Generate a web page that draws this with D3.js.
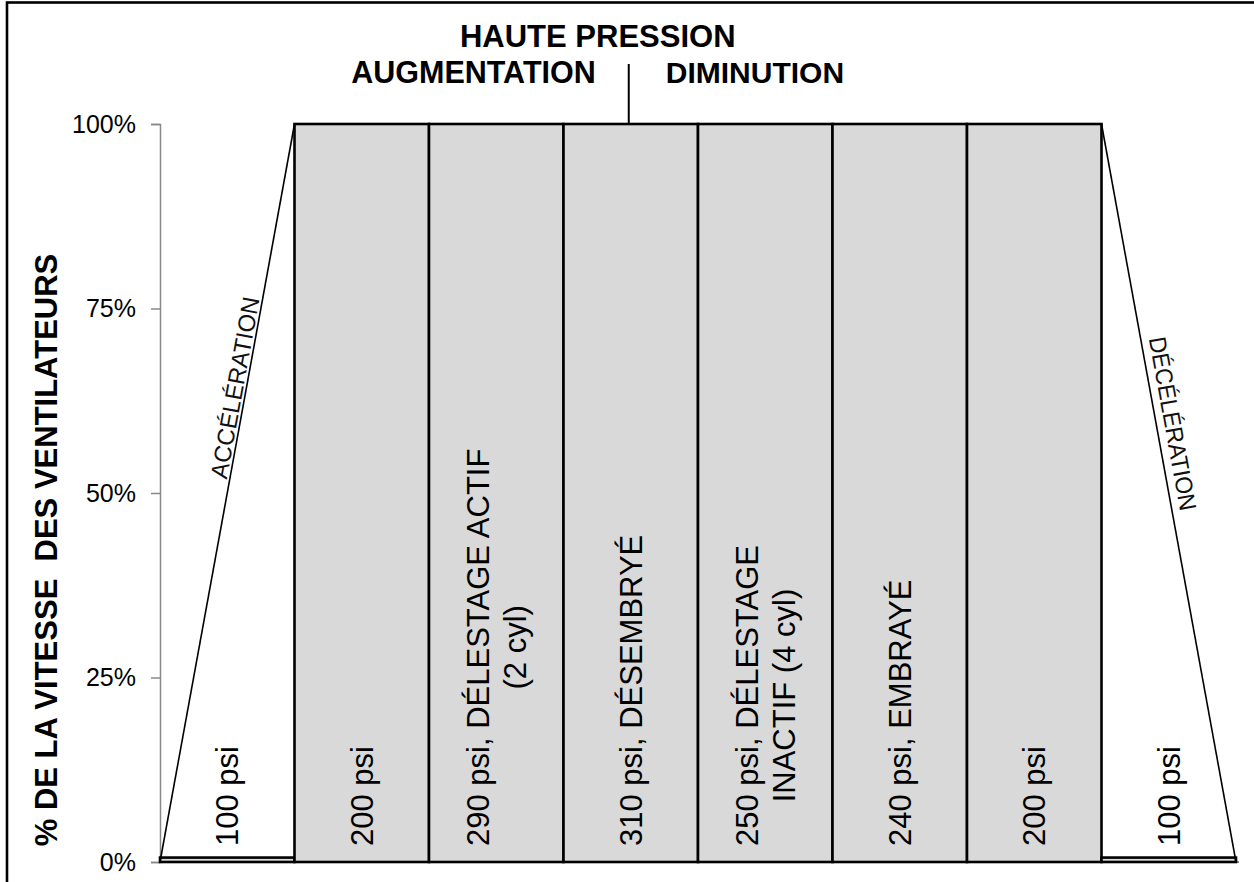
<!DOCTYPE html>
<html>
<head>
<meta charset="utf-8">
<script src="https://cdn.jsdelivr.net/npm/d3@7"></script>
<style>
  html, body { margin: 0; padding: 0; background: #fff; }
  svg { display: block; }
  text { font-family: "Liberation Sans", Arial, sans-serif; }
</style>
</head>
<body>
<svg id="chart" width="1254" height="882"></svg>
<script>
// Fan speed (%) per pressure stage
const stages = [
  "100 psi",
  "200 psi",
  "290 psi, DÉLESTAGE ACTIF\n(2 cyl)",
  "310 psi, DÉSEMBRYÉ",
  "250 psi, DÉLESTAGE\nINACTIF (4 cyl)",
  "240 psi, EMBRAYÉ",
  "200 psi",
  "100 psi"
];
const fanSpeed = [0.6, 100, 100, 100, 100, 100, 100, 0.6];

// Ramp lines: speed at the start and end of the first / last stage
const rampUp = [0, 100];
const rampDown = [100, 0];
const rampLabels = ["ACCÉLÉRATION", "DÉCÉLÉRATION"];

const yTicks = [0, 25, 50, 75, 100];
const titleText = "HAUTE PRESSION";
const phaseLabels = ["AUGMENTATION", "DIMINUTION"];
const yTitle = "% DE LA VITESSE  DES VENTILATEURS";

const svg = d3.select("#chart");

// Outer frame
svg.append("rect")
  .attr("x", 7).attr("y", 2.5)
  .attr("width", 1270).attr("height", 900)
  .attr("fill", "none").attr("stroke", "#000").attr("stroke-width", 2.6);

const plot = { left: 160, right: 1236, top: 124, bottom: 862 };

const x = d3.scaleBand()
  .domain(d3.range(stages.length))
  .range([plot.left, plot.right])
  .padding(0);

const y = d3.scaleLinear()
  .domain([0, 100])
  .range([plot.bottom, plot.top]);

// Y axis
const yAxis = d3.axisLeft(y)
  .tickValues(yTicks)
  .tickFormat(d => d + "%")
  .tickSize(9)
  .tickPadding(15);

const gy = svg.append("g")
  .attr("transform", `translate(${plot.left},0)`)
  .call(yAxis);
gy.select(".domain").attr("stroke", "#888").attr("stroke-width", 1.5);
gy.selectAll(".tick line").attr("stroke", "#888").attr("stroke-width", 1.5);
gy.selectAll(".tick text")
  .attr("font-size", 25)
  .attr("font-family", "Liberation Sans, Arial, sans-serif")
  .attr("fill", "#000");

// X axis baseline
svg.append("line")
  .attr("x1", plot.left).attr("x2", plot.right + 3)
  .attr("y1", y(0)).attr("y2", y(0))
  .attr("stroke", "#888").attr("stroke-width", 2);

// Bars
svg.append("g").selectAll("rect")
  .data(fanSpeed)
  .join("rect")
  .attr("x", (d, i) => x(i))
  .attr("y", d => y(d))
  .attr("width", x.bandwidth())
  .attr("height", d => y(0) - y(d))
  .attr("fill", "#d9d9d9")
  .attr("stroke", "#000")
  .attr("stroke-width", 2.6);

// Ramp lines
const first = 0, last = stages.length - 1;
const upPts = [[x(first), y(rampUp[0])], [x(first) + x.bandwidth(), y(rampUp[1])]];
const downPts = [[x(last), y(rampDown[0])], [x(last) + x.bandwidth(), y(rampDown[1])]];
const lineGen = d3.line();
svg.append("path").attr("d", lineGen(upPts))
  .attr("fill", "none").attr("stroke", "#000").attr("stroke-width", 1.6);
svg.append("path").attr("d", lineGen(downPts))
  .attr("fill", "none").attr("stroke", "#000").attr("stroke-width", 1.6);

// Ramp labels along the slopes
function slopeLabel(pts, level, text, gap, len) {
  const [p0, p1] = pts;
  const yy = y(level);
  const t = (yy - p0[1]) / (p1[1] - p0[1]);
  const px = p0[0] + t * (p1[0] - p0[0]);
  let ang = Math.atan2(p1[1] - p0[1], p1[0] - p0[0]) * 180 / Math.PI;
  // read upward on the rising line, downward on the falling line
  if (ang > 90) ang -= 180;
  if (ang < -90) ang += 180;
  const rad = ang * Math.PI / 180;
  // "up" direction of the rotated text
  const ux = Math.sin(rad), uy = -Math.cos(rad);
  const bx = px + ux * gap, by = yy + uy * gap;
  svg.append("text")
    .attr("transform", `translate(${bx},${by}) rotate(${ang})`)
    .attr("text-anchor", "middle")
    .attr("font-family", "'Open Sans', 'Noto Sans', sans-serif")
    .attr("font-size", 24)
    .attr("textLength", len)
    .attr("lengthAdjust", "spacingAndGlyphs")
    .attr("fill", "#111")
    .text(text);
}
slopeLabel(upPts, 64, rampLabels[0], 3, 184);
slopeLabel(downPts, 59, rampLabels[1], 8, 176);

// Stage labels, rotated, sitting at the bar base
const base = y(0) - 16;
const lineGap = 37;
stages.forEach((label, i) => {
  const lines = label.split("\n");
  const cx = x(i) + x.bandwidth() / 2;
  const g = svg.append("g");
  const texts = lines.map((ln, k) => {
    const off = (k - (lines.length - 1) / 2) * lineGap;
    return g.append("text")
      .attr("font-size", 31)
      .attr("fill", "#000")
      .attr("text-anchor", "middle")
      .attr("dy", "0.36em")
      .style("white-space", "pre")
      .attr("data-off", off)
      .text(ln);
  });
  const maxLen = d3.max(texts, t => t.node().getComputedTextLength());
  const cy = base - maxLen / 2;
  texts.forEach(t => {
    const off = +t.attr("data-off");
    t.attr("transform", `translate(${cx + off},${cy}) rotate(-90)`);
  });
});

// Phase divider above the peak stage
const divX = x(3) + x.bandwidth() / 2 - 2;
svg.append("line")
  .attr("x1", divX).attr("x2", divX)
  .attr("y1", 64).attr("y2", y(100))
  .attr("stroke", "#000").attr("stroke-width", 2);

svg.append("text")
  .attr("x", divX - 31).attr("y", 47)
  .attr("text-anchor", "middle")
  .attr("font-weight", "bold").attr("font-size", 31)
  .text(titleText);
svg.append("text")
  .attr("x", divX - 33).attr("y", 83)
  .attr("text-anchor", "end")
  .attr("font-weight", "bold").attr("font-size", 30.5)
  .text(phaseLabels[0]);
svg.append("text")
  .attr("x", divX + 37).attr("y", 83)
  .attr("text-anchor", "start")
  .attr("font-weight", "bold").attr("font-size", 30)
  .text(phaseLabels[1]);

// Y axis title
svg.append("text")
  .attr("transform", `translate(57,${(plot.top + plot.bottom) / 2 + 57}) rotate(-90)`)
  .attr("text-anchor", "middle")
  .attr("font-weight", "bold").attr("font-size", 31)
  .style("white-space", "pre")
  .text(yTitle);
</script>
</body>
</html>
